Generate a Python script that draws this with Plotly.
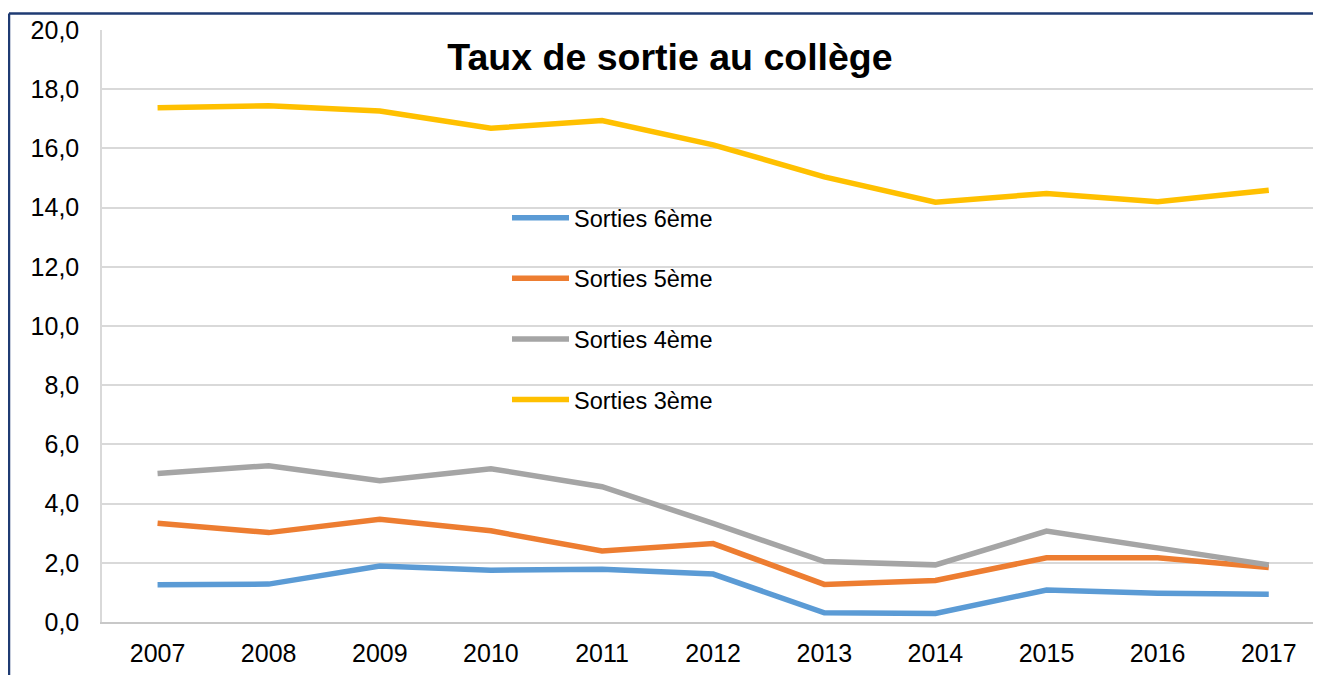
import plotly.graph_objects as go

years = ["2007", "2008", "2009", "2010", "2011", "2012", "2013", "2014", "2015", "2016", "2017"]
sorties_6 = [1.26, 1.28, 1.89, 1.75, 1.78, 1.62, 0.31, 0.29, 1.08, 0.97, 0.94]
sorties_5 = [3.34, 3.02, 3.47, 3.08, 2.40, 2.65, 1.27, 1.40, 2.17, 2.17, 1.84]
sorties_4 = [5.02, 5.28, 4.77, 5.18, 4.57, 3.33, 2.04, 1.93, 3.07, 2.50, 1.93]
sorties_3 = [17.37, 17.44, 17.26, 16.68, 16.94, 16.12, 15.04, 14.18, 14.48, 14.20, 14.59]

series = [
    ("Sorties 6ème", sorties_6, "#5B9BD5"),
    ("Sorties 5ème", sorties_5, "#ED7D31"),
    ("Sorties 4ème", sorties_4, "#A5A5A5"),
    ("Sorties 3ème", sorties_3, "#FFC000"),
]

FONT = "Liberation Sans, Arial, sans-serif"

# the page places the figure at (8, 8); layout below is in figure pixels
W, H = 1313, 667
L, T, B = 94, 22, 53
PW, PH = W - L, H - T - B  # 1219 x 592

fig = go.Figure()
for i, (name, vals, col) in enumerate(series):
    fig.add_trace(go.Scatter(
        x=years, y=vals, name=name, mode="lines",
        line=dict(color=col, width=5.5),
        legendgroup=f"g{i}",
    ))

fig.update_layout(
    width=W, height=H,
    margin=dict(l=L, r=0, t=T, b=B),
    paper_bgcolor="white", plot_bgcolor="white",
    separators=", ",
    title=dict(
        text="<b>Taux de sortie au collège</b>",
        x=662 / W, xanchor="center", xref="container",
        y=1 - 49 / H, yanchor="middle", yref="container",
        font=dict(family=FONT, size=37.5, color="black"),
    ),
    showlegend=True,
    legend=dict(
        x=(499 - L) / PW, xanchor="left",
        y=1 - (188 - T) / PH, yanchor="top",
        font=dict(family=FONT, size=23.5, color="black"),
        bgcolor="rgba(0,0,0,0)",
        traceorder="grouped",
        tracegroupgap=27,
        itemwidth=57,
    ),
    xaxis=dict(
        type="category",
        range=[-0.5, 10.47],
        showgrid=False,
        showline=True, linecolor="#C8C8C8", linewidth=2,
        ticks="", ticklabelstandoff=8,
        tickfont=dict(family=FONT, size=25, color="black"),
        zeroline=False,
    ),
    yaxis=dict(
        range=[0, 20], dtick=2, tickformat=".1f",
        showgrid=True, gridcolor="#D9D9D9", gridwidth=1.5,
        showline=True, linecolor="#D9D9D9", linewidth=1.5,
        ticks="", ticklabelstandoff=16,
        tickfont=dict(family=FONT, size=25, color="black"),
        zeroline=False,
    ),
)

# outer chart frame (top and left edges visible in the reference)
ytop = 1 + (T - 5.5) / PH
xleft = (1 - L) / PW
fig.add_shape(type="line", xref="paper", yref="paper",
              x0=xleft, x1=1.0, y0=ytop, y1=ytop,
              line=dict(color="#1F3B73", width=2.5))
fig.add_shape(type="line", xref="paper", yref="paper",
              x0=xleft, x1=xleft, y0=-B / PH, y1=ytop,
              line=dict(color="#1F3B73", width=2.5))

fig.write_html("out.html")
